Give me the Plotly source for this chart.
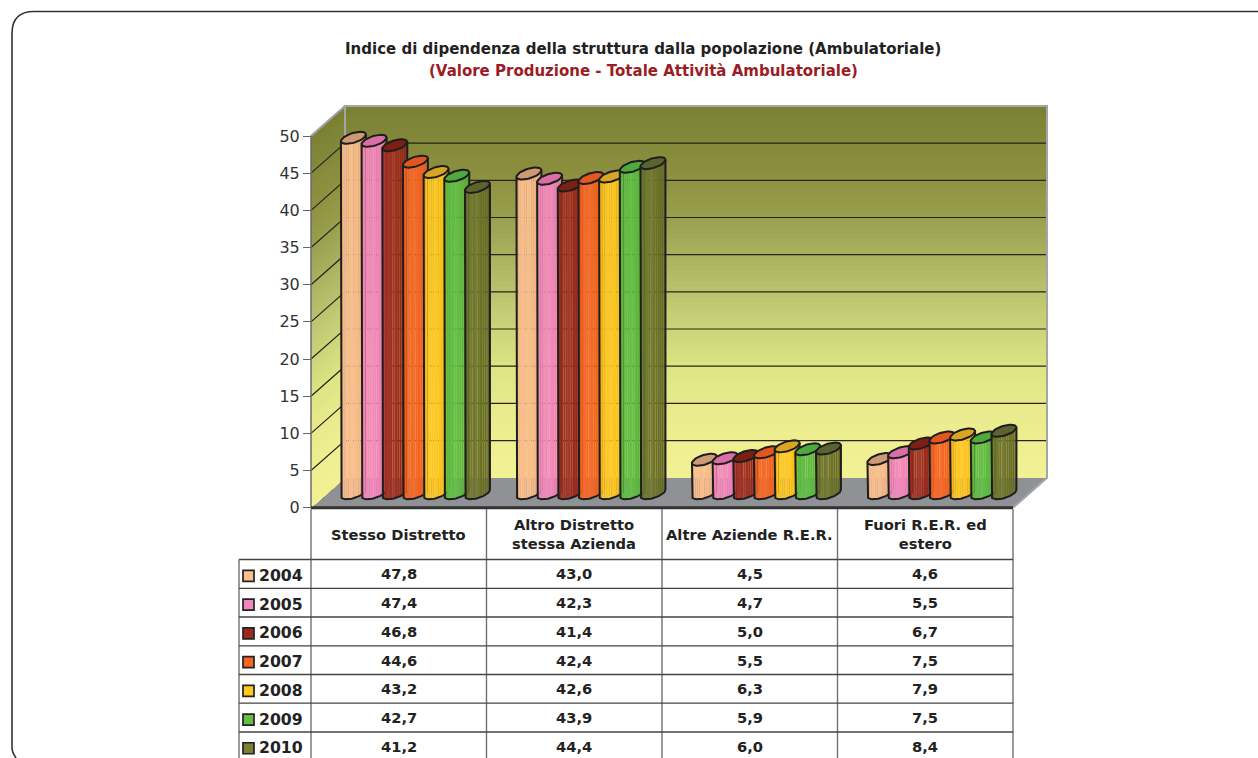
import math
import plotly.graph_objects as go

categories = ["Stesso Distretto", "Altro Distretto<br>stessa Azienda", "Altre Aziende R.E.R.", "Fuori R.E.R. ed<br>estero"]
years = ["2004", "2005", "2006", "2007", "2008", "2009", "2010"]
v2004 = [47.8, 43.0, 4.5, 4.6]
v2005 = [47.4, 42.3, 4.7, 5.5]
v2006 = [46.8, 41.4, 5.0, 6.7]
v2007 = [44.6, 42.4, 5.5, 7.5]
v2008 = [43.2, 42.6, 6.3, 7.9]
v2009 = [42.7, 43.9, 5.9, 7.5]
v2010 = [41.2, 44.4, 6.0, 8.4]
series = [v2004, v2005, v2006, v2007, v2008, v2009, v2010]
labels_tbl = [[f"{v:.1f}".replace(".", ",") for v in s] for s in series]
body_colors = ["#F8BA88", "#F284BA", "#9C2A1C", "#F5621F", "#FDC41C", "#5CBB3E", "#6C7128"]
swatch_colors = ["#FCBE8C", "#F584BC", "#9C2A1C", "#F8651F", "#FFC81E", "#66BE44", "#7C8034"]
top_colors = ["#CD9A74", "#D96FA6", "#7E1F14", "#E2571F", "#D8A524", "#50A93C", "#5C6230"]
yticks = list(range(0, 51, 5))

W, H = 1258, 758
X0, CATW = 311.0, 175.5     # page x of the plot's front-left corner, px per category
Y0, UNIT = 507.7, 7.434     # page y of value 0, px per value unit
DX, DY = 34.0, 30.0         # depth of the floor, px


def ux(px):
    return (px - X0) / CATW - 0.5


def uy(py):
    return (Y0 - py) / UNIT


def dxu(px):
    return px / CATW


def dyu(px):
    return px / UNIT


def pap(py):
    return 1 - py / H


def hex2rgb(c):
    return tuple(int(c[i:i + 2], 16) for i in (1, 3, 5))


def mix(c, f):
    r = hex2rgb(c)
    if f >= 1:
        return "rgb(%d,%d,%d)" % tuple(round(v + (255 - v) * (f - 1)) for v in r)
    return "rgb(%d,%d,%d)" % tuple(round(v * f) for v in r)


wall_stops = [(0, "#F2F194"), (5, "#EFEF92"), (10, "#E8EA8C"), (15, "#DDE585"), (20, "#CDD57A"), (25, "#BCC470"),
              (30, "#ABB260"), (35, "#9AA050"), (40, "#8F9240"), (45, "#85893A"), (50, "#7C8033")]


def wall(v):
    for (a, ca), (b, cb) in zip(wall_stops, wall_stops[1:]):
        if v <= b:
            f = (v - a) / (b - a)
            return "rgb(%d,%d,%d)" % tuple(round(p + (q - p) * f) for p, q in zip(hex2rgb(ca), hex2rgb(cb)))
    return wall_stops[-1][1]


fig = go.Figure()


def poly(xs, ys, fill=None, line=None, width=0.0):
    fig.add_trace(go.Scatter(
        x=xs, y=ys, mode="lines", fill="toself" if fill else "none",
        fillcolor=fill, line=dict(color=line or "rgba(0,0,0,0)", width=width),
        hoverinfo="skip", showlegend=False))


xl, xr = -0.5, 3.5
bx, by = dxu(DX), dyu(DY)
vtop = 50
# floor
poly([xl, xr, xr + bx, xl + bx, xl], [0, 0, by, by, 0], fill="#8F9195")
# back wall and left wall, painted top-down so no seams appear
N = 70
for i in range(N, 0, -1):
    v = vtop * i / N
    poly([xl + bx, xr + bx, xr + bx, xl + bx, xl + bx], [by, by, v + by, v + by, by], fill=wall(v))
for i in range(N, 0, -1):
    v = vtop * i / N
    poly([xl, xl + bx, xl + bx, xl, xl], [0, by, v + by, v, 0], fill=wall(v))
# gridlines
for v in yticks[1:]:
    poly([xl, xl + bx, xr + bx], [v, v + by, v + by], line="#26261A", width=1.2)
# frame edges
poly([xl + bx, xl + bx, xr + bx, xr + bx, xr], [by, vtop + by, vtop + by, by, 0], line="#A2A6AA", width=2)
poly([xl, xl + bx], [vtop, vtop + by], line="#A2A6AA", width=2)
poly([xl, xl], [0, vtop], line="#6B6B6B", width=1.5)
poly([xl, xr], [0, 0], line="#333333", width=3)

# cylinders
A = dxu(10.4)
ODX, ODY = dxu(6.9), dyu(6.0)
SP = dxu(20.67)
CDX, CDY = dxu(16.7), dyu(14.5)
t0 = math.atan2(ODX * CATW, A * CATW)
profile = [0.86, 0.9, 0.96, 1.0, 1.03, 1.05, 1.03, 1.07, 1.03, 1.0, 0.98, 0.96, 0.94, 0.92, 0.9, 0.86]


def ell(cx, cy, t):
    return cx + A * math.cos(t) + ODX * math.sin(t), cy + ODY * math.sin(t)


for c in range(len(categories)):
    for s, vals in enumerate(series):
        cx = c + CDX + SP * (s - 3)
        base, top = CDY, vals[c] + CDY
        n = len(profile)
        for k in range(n):
            ts = [t0 + math.pi + math.pi * (k + j / 4) / n for j in range(5)]
            up = [ell(cx, top, t) for t in ts]
            dn = [ell(cx, base, t) for t in ts]
            pts = up + dn[::-1]
            poly([p[0] for p in pts] + [up[0][0]], [p[1] for p in pts] + [up[0][1]],
                 fill=mix(body_colors[s], profile[k]))
        ts = [t0 + math.pi + math.pi * j / 40 for j in range(41)]
        dn = [ell(cx, base, t) for t in ts]
        xs = [ell(cx, top, ts[0])[0]] + [p[0] for p in dn] + [ell(cx, top, ts[-1])[0]]
        ys = [ell(cx, top, ts[0])[1]] + [p[1] for p in dn] + [ell(cx, top, ts[-1])[1]]
        poly(xs, ys, line="#1E1E1E", width=2)
        ts = [2 * math.pi * j / 48 for j in range(49)]
        e = [ell(cx, top, t) for t in ts]
        poly([p[0] for p in e], [p[1] for p in e], fill=top_colors[s], line="#1E1E1E", width=2)

shapes = []
# panel outline
r = 22
shapes.append(dict(type="path", xref="paper", yref="paper",
                   path=f"M {1.0} {pap(11.5)} L {(12 + r) / W} {pap(11.5)} "
                        f"Q {12 / W} {pap(11.5)} {12 / W} {pap(11.5 + r)} "
                        f"L {12 / W} {pap(748)} Q {12 / W} {pap(752)} {16 / W} {pap(758)}",
                   line=dict(color="#333333", width=1.6)))
# table
row_lines = [559.5, 588.3, 617, 645.8, 674.5, 703.2, 732, 760.5]
col_x = [xl, 0.5, 1.5, 2.5, 3.5]
left_x = ux(239)
for cxv in col_x:
    shapes.append(dict(type="line", xref="x", yref="paper", x0=cxv, x1=cxv, y0=pap(509), y1=pap(760),
                       line=dict(color="#707070", width=1.4)))
shapes.append(dict(type="line", xref="x", yref="paper", x0=left_x, x1=left_x, y0=pap(559.5), y1=pap(760),
                   line=dict(color="#707070", width=1.4)))
for ry in row_lines:
    shapes.append(dict(type="line", xref="x", yref="paper", x0=left_x, x1=xr, y0=pap(ry), y1=pap(ry),
                       line=dict(color="#444444", width=1.3)))

FONT = "DejaVu Sans"
ann = []


def note(x, py, text, size=14.7, color="#222222", xanchor="center", xref="x", bold=True):
    ann.append(dict(x=x, y=pap(py), xref=xref, yref="paper", xanchor=xanchor, yanchor="middle",
                    text=f"<b>{text}</b>" if bold else text, showarrow=False,
                    font=dict(family=FONT, size=size, color=color)))


note(643 / W, 49, "Indice di dipendenza della struttura dalla popolazione (Ambulatoriale)", xref="paper", size=15)
note(643 / W, 71, "(Valore Produzione - Totale Attività Ambulatoriale)", xref="paper", size=15, color="#9B1C24")
for i, cat in enumerate(categories):
    note(i, 534, cat)
for s, y in enumerate(years):
    rc = (row_lines[s] + row_lines[s + 1]) / 2
    shapes.append(dict(type="rect", xref="x", yref="paper", x0=ux(243), x1=ux(254), y0=pap(rc - 3.5), y1=pap(rc + 7.5),
                       fillcolor=swatch_colors[s], line=dict(color="#222222", width=1.7)))
    note(ux(256.5), rc + 1.5, y, xanchor="left", size=15.7)
    for c in range(len(categories)):
        note(c, rc, labels_tbl[s][c])

fig.update_layout(
    width=W, height=H, margin=dict(l=0, r=0, t=0, b=0), paper_bgcolor="white", plot_bgcolor="white",
    shapes=shapes, annotations=ann, showlegend=False, hovermode=False,
    xaxis=dict(range=[ux(0), ux(W)], visible=False, fixedrange=True),
    yaxis=dict(range=[uy(H), uy(0)], anchor="free", position=X0 / W, tickvals=yticks,
               ticktext=[str(v) for v in yticks], ticks="outside", ticklen=8, tickwidth=1.4, tickcolor="#666666",
               showgrid=False, zeroline=False, showline=False, fixedrange=True,
               tickfont=dict(family=FONT, size=16, color="#333333")),
)
fig.write_html("out.html", config={"displayModeBar": False},
               post_script="document.body.style.margin='0';document.body.style.overflow='hidden';")
